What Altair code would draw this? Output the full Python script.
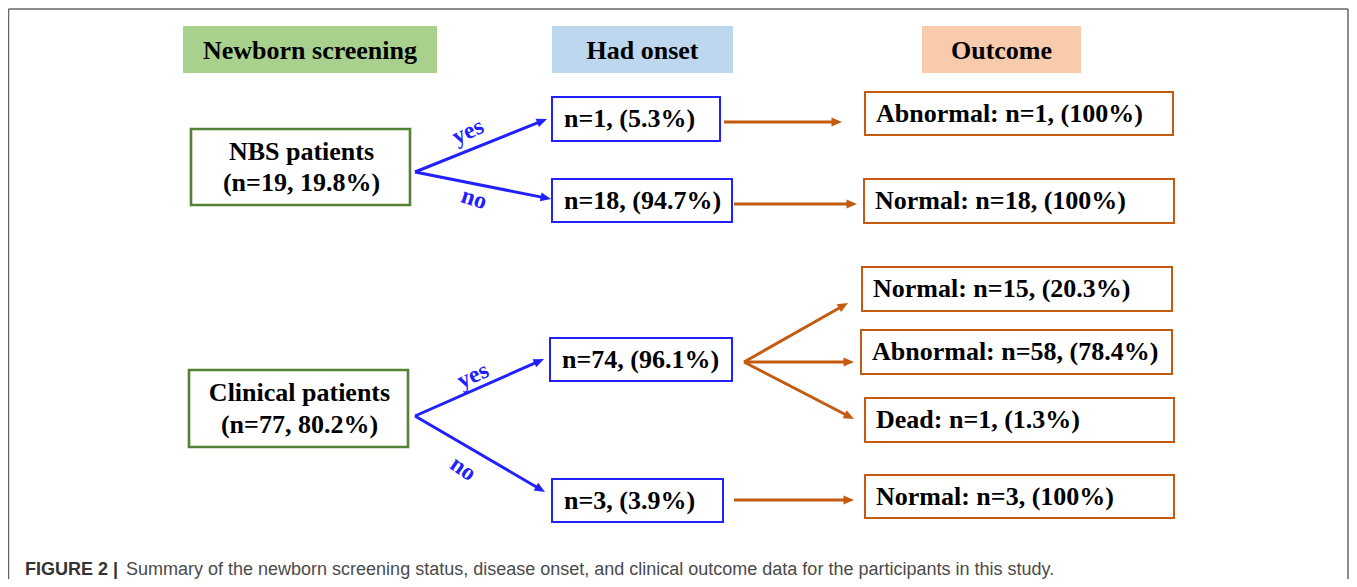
import math
import altair as alt
import pandas as pd

# ---------------- values ----------------
headers = ["Newborn screening", "Had onset", "Outcome"]
groups = ["NBS patients", "Clinical patients"]
group_n = [19, 77]
group_pct = ["19.8%", "80.2%"]
branch = ["yes", "no", "yes", "no"]
onset_n = [1, 18, 74, 3]
onset_pct = ["5.3%", "94.7%", "96.1%", "3.9%"]
outcome_cat = ["Abnormal", "Normal", "Normal", "Abnormal", "Dead", "Normal"]
outcome_n = [1, 18, 15, 58, 1, 3]
outcome_pct = ["100%", "100%", "20.3%", "78.4%", "1.3%", "100%"]
caption_bold = "FIGURE 2 |"
caption_text = ("Summary of the newborn screening status, disease onset, and clinical "
                "outcome data for the participants in this study.")

# ---------------- layout (reference pixel space) ----------------
header_box = [(183, 437, 26, 73), (552, 733, 26, 73), (922, 1081, 26, 73)]
header_fill = ["#a9d18e", "#bdd7ee", "#f8cbad"]
group_box = [(191, 410, 129, 205), (189, 408, 370, 447)]
group_text_y = [(152, 183), (393, 425)]
onset_box = [(552, 720, 97, 141), (552, 732, 179, 222), (550, 732, 338, 381), (552, 723, 479, 522)]
outcome_box = [(865, 1173, 92, 135), (864, 1174, 179, 223), (862, 1172, 267, 311),
               (861, 1172, 330, 374), (865, 1174, 398, 442), (865, 1174, 475, 518)]
blue_arrows = [((415, 172), (547, 119)), ((415, 172), (551, 199)),
               ((415, 416), (544, 359)), ((415, 416), (545, 492))]
orange_arrows = [((724, 122), (842, 122)), ((734, 204), (857, 204)), ((744, 362), (848, 303)),
                 ((744, 362), (854, 362)), ((744, 362), (854, 419)), ((734, 500), (854, 500))]
branch_pos = [(468, 132, -25), (474, 199, 18), (473, 376, -25), (463, 469, 35)]
caption_pos = [(25, 570), (126, 570)]

GREEN, BLUE, ORANGE = "#548235", "#2121ff", "#c55a11"
SERIF = "Liberation Serif"

X = lambda f="x": alt.X(f"{f}:Q", scale=alt.Scale(domain=[8, 1349], nice=False, zero=False), axis=None)
Y = lambda f="y": alt.Y(f"{f}:Q", scale=alt.Scale(domain=[8, 579], nice=False, zero=False, reverse=True), axis=None)

# ---------------- tables ----------------
rects = []
for (x0, x1, y0, y1), c in zip(header_box, header_fill):
    rects.append(dict(x=x0, x2=x1, y=y0, y2=y1, fill=c, stroke=c, sw=0))
for (x0, x1, y0, y1) in group_box:
    rects.append(dict(x=x0, x2=x1, y=y0, y2=y1, fill="white", stroke=GREEN, sw=2.6))
for (x0, x1, y0, y1) in onset_box:
    rects.append(dict(x=x0, x2=x1, y=y0, y2=y1, fill="white", stroke=BLUE, sw=2))
for (x0, x1, y0, y1) in outcome_box:
    rects.append(dict(x=x0, x2=x1, y=y0, y2=y1, fill="white", stroke=ORANGE, sw=2))
rect_df = pd.DataFrame(rects)

center_txt = []
for (x0, x1, y0, y1), t in zip(header_box, headers):
    center_txt.append(dict(x=(x0 + x1) / 2, y=(y0 + y1) / 2 + 1, t=t))
for (x0, x1, y0, y1), g, n, p, (ya, yb) in zip(group_box, groups, group_n, group_pct, group_text_y):
    center_txt.append(dict(x=(x0 + x1) / 2 + 1, y=ya, t=g))
    center_txt.append(dict(x=(x0 + x1) / 2 + 1, y=yb, t=f"(n={n}, {p})"))
center_df = pd.DataFrame(center_txt)

left_txt = []
for (x0, x1, y0, y1), n, p in zip(onset_box, onset_n, onset_pct):
    left_txt.append(dict(x=x0 + 12, y=(y0 + y1) / 2, t=f"n={n}, ({p})"))
for (x0, x1, y0, y1), c, n, p in zip(outcome_box, outcome_cat, outcome_n, outcome_pct):
    left_txt.append(dict(x=x0 + 11, y=(y0 + y1) / 2, t=f"{c}: n={n}, ({p})"))
left_df = pd.DataFrame(left_txt)

lines, heads = [], []
for arrows, col in ((blue_arrows, BLUE), (orange_arrows, ORANGE)):
    for (sx, sy), (ex, ey) in arrows:
        ang = math.atan2(ey - sy, ex - sx)
        lines.append(dict(x=sx, y=sy, x2=ex - 7 * math.cos(ang), y2=ey - 7 * math.sin(ang), c=col))
        heads.append(dict(x=ex, y=ey, a=math.degrees(ang) % 360, c=col))
line_df = pd.DataFrame(lines)
head_df = pd.DataFrame(heads)

branch_df = pd.DataFrame([dict(x=x, y=y, a=a % 360, t=t) for (x, y, a), t in zip(branch_pos, branch)])

frame_df = pd.DataFrame([
    dict(x=8.5, y=9, x2=8.5, y2=579),
    dict(x=8.5, y=9, x2=1348, y2=9),
    dict(x=1348, y=9, x2=1348, y2=579),
])

cap_df = pd.DataFrame([dict(x=caption_pos[0][0], y=caption_pos[0][1], t=caption_bold)])
cap2_df = pd.DataFrame([dict(x=caption_pos[1][0], y=caption_pos[1][1], t=caption_text)])

# ---------------- layers ----------------
frame = alt.Chart(frame_df).mark_rule(color="#666666", strokeWidth=1.5).encode(
    x=X(), y=Y(), x2="x2:Q", y2="y2:Q")

boxes = alt.Chart(rect_df).mark_rect().encode(
    x=X(), x2="x2:Q", y=Y(), y2="y2:Q",
    fill=alt.Fill("fill:N", scale=None),
    stroke=alt.Stroke("stroke:N", scale=None),
    strokeWidth=alt.StrokeWidth("sw:Q", scale=None))

arrow_lines = alt.Chart(line_df).mark_rule(strokeWidth=3).encode(
    x=X(), y=Y(), x2="x2:Q", y2="y2:Q", color=alt.Color("c:N", scale=None))

arrow_heads = alt.Chart(head_df).mark_point(
    shape="M0,0L-2,-0.85L-2,0.85Z", filled=True, size=110, opacity=1, strokeWidth=0).encode(
    x=X(), y=Y(), angle=alt.Angle("a:Q", scale=None), color=alt.Color("c:N", scale=None))

center_text = alt.Chart(center_df).mark_text(
    font=SERIF, fontSize=26, fontWeight="bold", align="center", baseline="middle", color="black").encode(
    x=X(), y=Y(), text="t:N")

left_text = alt.Chart(left_df).mark_text(
    font=SERIF, fontSize=26, fontWeight="bold", align="left", baseline="middle", color="black").encode(
    x=X(), y=Y(), text="t:N")

branch_text = alt.Chart(branch_df).mark_text(
    font=SERIF, fontSize=24, fontWeight="bold", align="center", baseline="middle", color=BLUE).encode(
    x=X(), y=Y(), text="t:N", angle=alt.Angle("a:Q", scale=None))

cap1 = alt.Chart(cap_df).mark_text(
    font="Liberation Sans", fontSize=18, fontWeight="bold", align="left", baseline="middle",
    color="#333333").encode(x=X(), y=Y(), text="t:N")
cap2 = alt.Chart(cap2_df).mark_text(
    font="Liberation Sans", fontSize=18, align="left", baseline="middle",
    color="#4a4a4a").encode(x=X(), y=Y(), text="t:N")

chart = alt.layer(frame, boxes, arrow_lines, arrow_heads, center_text, left_text, branch_text, cap1, cap2).properties(
    width=1341, height=571, autosize=alt.AutoSizeParams(type="none"), padding=0,
    background="white").configure_view(stroke=None)

chart.save("out.html", embed_options={"renderer": "svg", "actions": False})
